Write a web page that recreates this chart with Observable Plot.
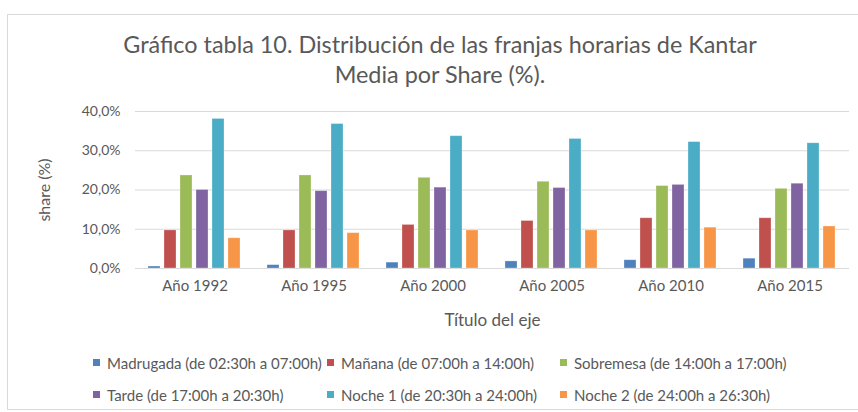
<!DOCTYPE html>
<html><head><meta charset="utf-8">
<script src="https://cdn.jsdelivr.net/npm/d3@7"></script>
<script src="https://cdn.jsdelivr.net/npm/@observablehq/plot@0.6"></script>
<style>
body{margin:0;background:#fff;}
#wrap{position:relative;width:858px;height:412px;overflow:hidden;font-family:Lato,"Open Sans",sans-serif;color:#595959;}
#frame{position:absolute;left:7px;top:14px;width:900px;height:396px;border:1px solid #d9d9d9;box-sizing:border-box;pointer-events:none;}
#title{position:absolute;left:0;width:880px;top:29px;text-align:center;font-size:23.4px;line-height:30px;}
#chart{position:absolute;left:0;top:0;}
#chart g[aria-label="y-axis label"] text{font-size:16px;}
#chart g[aria-label="fx-axis label"] text{font-size:17px;}
.li{position:absolute;font-size:15px;line-height:16px;white-space:nowrap;}
.li i{position:absolute;left:-14px;top:4px;width:7px;height:7px;}
</style></head>
<body><div id="wrap"><div id="chart"></div><div id="title">Gráfico tabla 10. Distribución de las franjas horarias de Kantar<br>Media por Share (%).</div><div id="legend"></div><div id="frame"></div></div>
<script>
const years = ["Año 1992","Año 1995","Año 2000","Año 2005","Año 2010","Año 2015"];
const series = ["Madrugada (de 02:30h a 07:00h)","Mañana (de 07:00h a 14:00h)","Sobremesa (de 14:00h a 17:00h)","Tarde (de 17:00h a 20:30h)","Noche 1 (de 20:30h a 24:00h)","Noche 2 (de 24:00h a 26:30h)"];
const madrugada = [0.5, 0.85, 1.5, 1.8, 2.1, 2.5];
const manana    = [9.7, 9.7, 11.1, 12.1, 12.8, 12.8];
const sobremesa = [23.7, 23.7, 23.1, 22.1, 21.0, 20.3];
const tarde     = [20.0, 19.7, 20.6, 20.5, 21.3, 21.6];
const noche1    = [38.1, 36.8, 33.7, 33.0, 32.2, 31.9];
const noche2    = [7.7, 9.0, 9.7, 9.7, 10.4, 10.7];
const colors = ["#4F81BD","#C0504D","#9BBB59","#8064A2","#4BACC6","#F79646"];
const yTicks = [0, 10, 20, 30, 40];

const seriesValues = [madrugada, manana, sobremesa, tarde, noche1, noche2];
const data = [];
years.forEach((yr, i) => series.forEach((s, j) => data.push({year: yr, series: s, value: seriesValues[j][i]})));

const fmt = d => d.toFixed(1).replace(".", ",") + "%";

const chart = Plot.plot({
  width: 858, height: 340,
  marginTop: 111, marginBottom: 72, marginLeft: 133, marginRight: 7,
  style: {background: "transparent", fontFamily: "Lato, 'Open Sans', sans-serif", fontSize: "15px", color: "#595959"},
  fx: {domain: years, padding: 0, label: null, axis: null},
  x: {domain: series, paddingInner: 0.24, paddingOuter: 0.81, axis: null},
  y: {domain: [0, 40], axis: null},
  color: {domain: series, range: colors},
  marks: [
    Plot.gridY(yTicks, {stroke: "#d9d9d9", strokeOpacity: 1, strokeWidth: 1.2}),
    Plot.barY(data, {fx: "year", x: "series", y: "value", fill: "series", stroke: "#ffffff", strokeOpacity: 0.35, strokeWidth: 0.8}),
    Plot.axisY(yTicks, {tickSize: 0, tickPadding: 15, fontSize: 14, tickFormat: fmt, label: "share (%)", labelArrow: "none", labelAnchor: "center", labelOffset: 97, fill: "#595959"}),
    Plot.axisFx({anchor: "bottom", tickSize: 0, tickPadding: 12, label: "Título del eje", labelAnchor: "center", labelOffset: 57, fill: "#595959"})
  ]
});
document.getElementById("chart").appendChild(chart);

const pos = [[107,355],[341,355],[574,355],[107,387],[341,387],[574,387]];
const leg = document.getElementById("legend");
series.forEach((s, j) => {
  const d = document.createElement("div");
  d.className = "li";
  d.style.left = pos[j][0] + "px";
  d.style.top = pos[j][1] + "px";
  d.innerHTML = `<i style="background:${colors[j]}"></i>${s}`;
  leg.appendChild(d);
});
</script></body></html>
